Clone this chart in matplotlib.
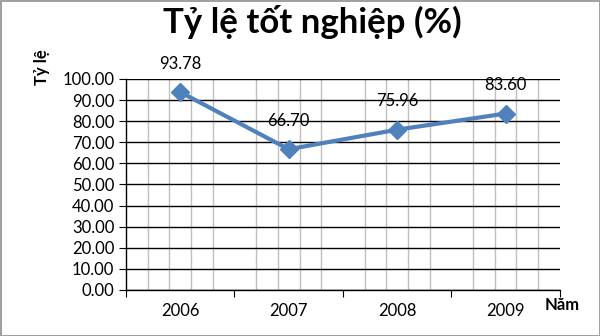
import matplotlib.pyplot as plt
import numpy as np
from matplotlib.ticker import FixedLocator

plt.rcParams['font.family'] = ['Lato', 'DejaVu Sans']

# dữ liệu
nam = ["2006", "2007", "2008", "2009"]
ty_le = [93.78, 66.70, 75.96, 83.60]

fig = plt.figure(figsize=(6, 3.36), dpi=100)
fig.patch.set_edgecolor("#a0a0a0")
fig.patch.set_linewidth(2)
ax = fig.add_axes([0.21, 0.137, 0.723, 0.628])

x = np.arange(len(nam))
ax.plot(x, ty_le, color="#4f81bd", linewidth=3, marker="D", markersize=9, zorder=3)

for xi, v in zip(x, ty_le):
    ax.annotate(f"{v:.2f}", (xi, v), xytext=(0, 20.5), textcoords="offset points",
                ha="center", va="center", fontsize=12)

ax.set_xlim(-0.5, len(nam) - 0.5)
ax.set_ylim(0, 100)
ax.set_yticks(np.arange(0, 101, 10))
ax.set_yticklabels([f"{t:.2f}" for t in range(0, 101, 10)], fontsize=12)

# vạch chính ở ranh giới, nhãn ở giữa
ax.xaxis.set_major_locator(FixedLocator(np.arange(-0.5, len(nam), 1)))
ax.set_xticklabels([])
minor = [c + d for c in range(len(nam)) for d in (-0.3, -0.1, 0.1, 0.3)] + [len(nam) - 0.5]
ax.xaxis.set_minor_locator(FixedLocator(minor))
ax.tick_params(axis="x", which="minor", length=0)
ax.tick_params(axis="x", which="major", length=5, color="black")
ax.tick_params(axis="y", length=5)
for xi, n in zip(x, nam):
    ax.text(xi, -10, n, ha="center", va="center", fontsize=12)

ax.grid(axis="y", color="black", linewidth=1)
ax.grid(axis="x", which="minor", color="#c0c0c0", linewidth=1)
ax.set_axisbelow(True)

for s in ["top", "right"]:
    ax.spines[s].set_visible(False)
ax.spines["left"].set_linewidth(1)
ax.spines["bottom"].set_linewidth(1)

fig.text(0.52, 0.935, "Tỷ lệ tốt nghiệp (%)", ha="center", va="center",
         fontsize=25, fontweight="bold")
fig.text(0.07, 0.80, "Tỷ lệ", rotation=90, ha="center", va="center",
         fontsize=12, fontweight="bold")
fig.text(0.908, 0.092, "Năm", ha="left", va="center", fontsize=12, fontweight="bold")

fig.savefig("out.png", dpi=100)
